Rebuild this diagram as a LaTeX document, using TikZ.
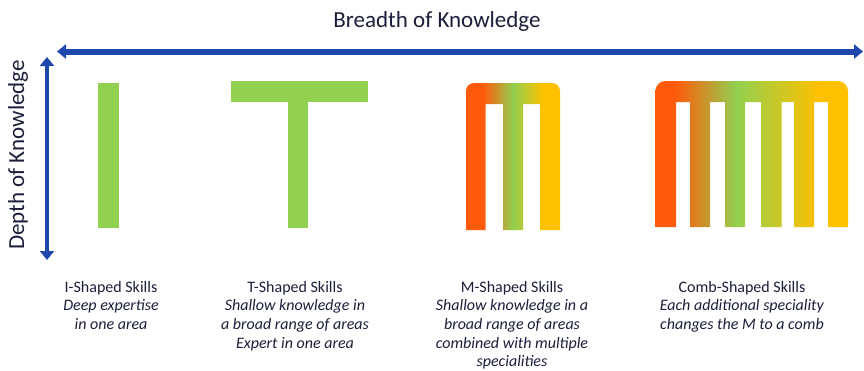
\documentclass[tikz,border=0pt]{standalone}
\usepackage{fontspec}
\setmainfont{Carlito}
\usetikzlibrary{arrows.meta}
\definecolor{cO}{RGB}{255,90,10}
\definecolor{cG}{RGB}{146,208,80}
\definecolor{cY}{RGB}{255,192,0}
\definecolor{axisblue}{RGB}{30,72,172}
\definecolor{txt}{RGB}{27,31,59}
\pgfdeclarehorizontalshading{mshade}{100bp}{color(0bp)=(cO); color(25bp)=(cO); color(34bp)=(cO); color(50bp)=(cG); color(66bp)=(cY); color(75bp)=(cY); color(100bp)=(cY)}
\pgfdeclarehorizontalshading{combshade}{100bp}{color(0bp)=(cO); color(25bp)=(cO); color(30bp)=(cO); color(46bp)=(cG); color(67.5bp)=(cY); color(75bp)=(cY); color(100bp)=(cY)}
\tikzset{
  axisarrow/.style={draw=axisblue, line width=#1, {Triangle[width=14pt,length=9pt]}-{Triangle[width=14pt,length=9pt]}},
  skilltitle/.style={text=txt, font=\fontsize{16}{18.6}\selectfont, align=center, anchor=north, inner sep=0pt},
  bigtext/.style={text=txt, font=\fontsize{23}{26}\selectfont, inner sep=0pt},
}
\begin{document}
\begin{tikzpicture}[x=1pt,y=-1pt]
\useasboundingbox (0,0) rectangle (864,370);
% axes
\coordinate (hl) at (57,51.5);
\coordinate (hr) at (863,51.5);
\coordinate (vt) at (47,57);
\coordinate (vb) at (47,260);
\draw[axisarrow=6pt] (hl) -- (hr);
\draw[axisarrow=4.5pt] (vt) -- (vb);
\node[bigtext] (breadth) at (437,21) {Breadth of Knowledge};
\node[bigtext, rotate=90] (depth) at (18,155) {Depth of Knowledge};
% I shape
\fill[cG] (98,83) rectangle (118.5,228);
% T shape
\fill[cG] (231,81) rectangle (368,102);
\fill[cG] (288,81) rectangle (308,228);
% M shape
\shade[shading=mshade]
  [rounded corners=8pt] (466,83) rectangle (560,104)
  [sharp corners] (466,95) rectangle (485.6,230)
  (503,95) rectangle (523,230)
  (540,95) rectangle (560,230);
% Comb shape
\shade[shading=combshade]
  [rounded corners=10pt] (655.5,81) rectangle (848,102)
  [sharp corners] (655.5,92) rectangle (676,227)
  (690,92) rectangle (710,227)
  (725,92) rectangle (745,227)
  (761,92) rectangle (781.5,227)
  (794,92) rectangle (814,227)
  (828,92) rectangle (848,227);
% labels
\node[skilltitle] (li) at (111,281) {I-Shaped Skills\\ \textit{Deep expertise}\\ \textit{in one area}};
\node[skilltitle] (lt) at (295,281) {T-Shaped Skills\\ \textit{Shallow knowledge in}\\ \textit{a broad range of areas}\\ \textit{Expert in one area}};
\node[skilltitle] (lm) at (512,281) {M-Shaped Skills\\ \textit{Shallow knowledge in a}\\ \textit{broad range of areas}\\ \textit{combined with multiple}\\ \textit{specialities}};
\node[skilltitle] (lc) at (742,281) {Comb-Shaped Skills\\ \textit{Each additional speciality}\\ \textit{changes the M to a comb}};
\end{tikzpicture}
\end{document}
